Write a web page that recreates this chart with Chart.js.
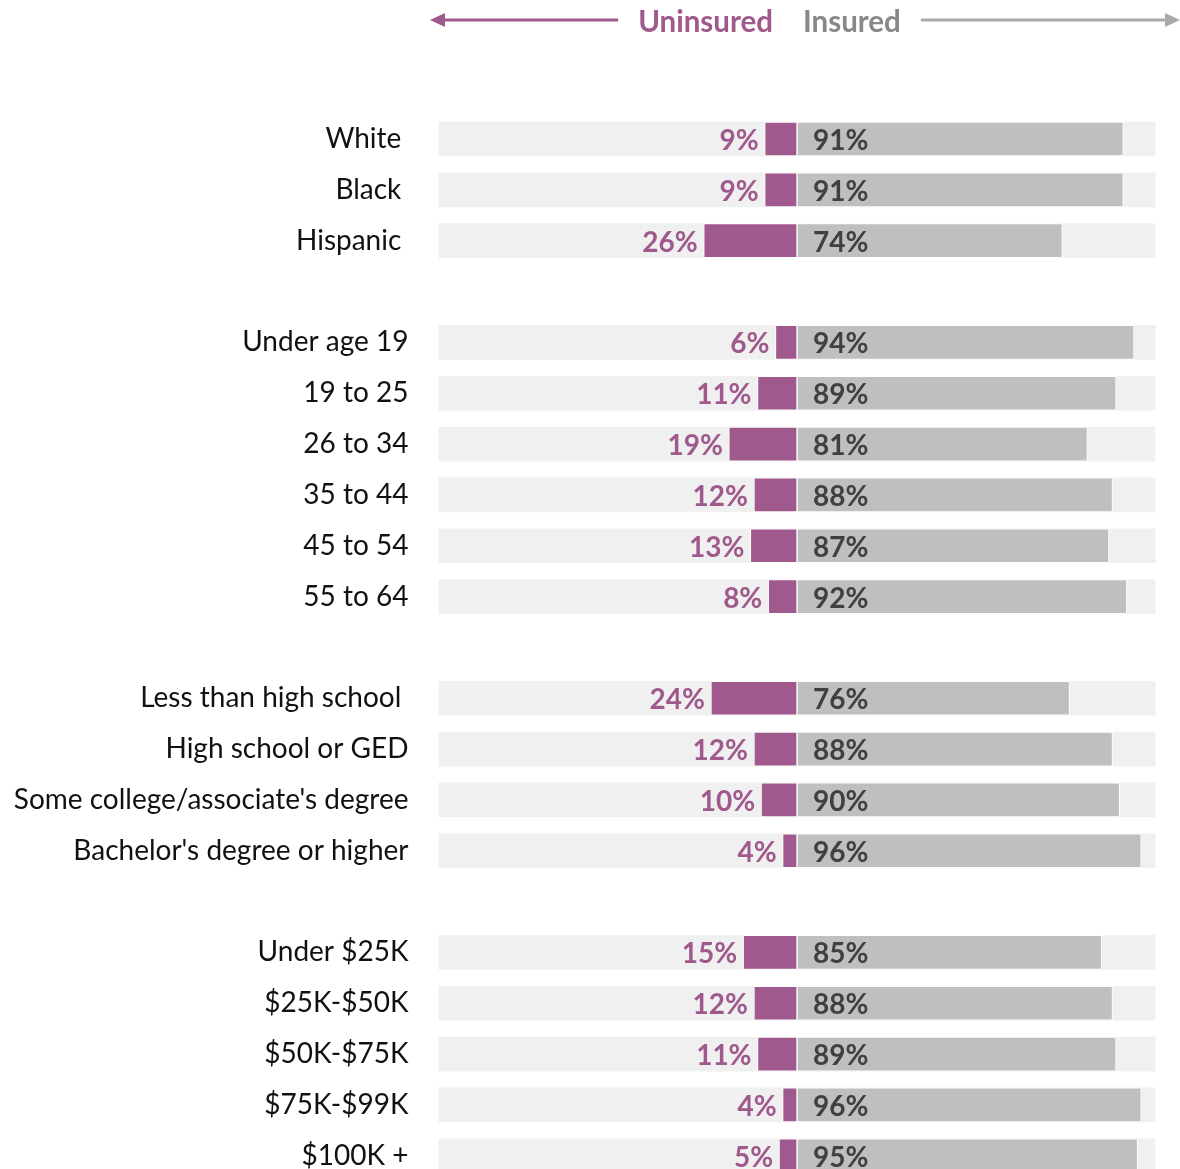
<!DOCTYPE html>
<html>
<head>
<meta charset="utf-8">
<script src="https://cdn.jsdelivr.net/npm/chart.js@4"></script>
<style>
  html, body { margin: 0; padding: 0; background: #ffffff; overflow: hidden; }
  #wrap { width: 1180px; height: 1228px; position: relative; }
</style>
</head>
<body>
<div id="wrap"><canvas id="c" width="1180" height="1228"></canvas></div>
<script>
// ---- data ----
const categories = [
  "White ", "Black ", "Hispanic ", "",
  "Under age 19", "19 to 25", "26 to 34", "35 to 44", "45 to 54", "55 to 64", "",
  "Less than high school ", "High school or GED", "Some college/associate's degree", "Bachelor's degree or higher", "",
  "Under $25K", "$25K-$50K", "$50K-$75K", "$75K-$99K", "$100K +"
];
const uninsured = [9, 9, 26, null, 6, 11, 19, 12, 13, 8, null, 24, 12, 10, 4, null, 15, 12, 11, 4, 5];
const insured   = [91, 91, 74, null, 94, 89, 81, 88, 87, 92, null, 76, 88, 90, 96, null, 85, 88, 89, 96, 95];
const headerLeft = "Uninsured";
const headerRight = "Insured";

const PURPLE = '#a0598c';
const GREY = '#bfbfbf';
const BG = '#f0f0f0';
const FONT = 'Lato, "Source Sans Pro", "Noto Sans", sans-serif';

const labelPlugin = {
  id: 'labels',
  afterDatasetsDraw(chart) {
    const ctx = chart.ctx;
    const x = chart.scales.x, y = chart.scales.y;
    ctx.save();
    ctx.font = 'bold 28px ' + FONT;
    ctx.textBaseline = 'middle';
    categories.forEach((c, i) => {
      const yc = y.getPixelForValue(i) + 2;
      if (uninsured[i] != null) {
        ctx.fillStyle = PURPLE;
        ctx.textAlign = 'right';
        ctx.fillText(uninsured[i] + '%', x.getPixelForValue(-uninsured[i]) - 6, yc);
      }
      if (insured[i] != null) {
        ctx.fillStyle = '#404040';
        ctx.textAlign = 'left';
        ctx.fillText(insured[i] + '%', x.getPixelForValue(0) + 16, yc);
      }
    });
    ctx.restore();
  },
  afterDraw(chart) {
    const ctx = chart.ctx;
    const x = chart.scales.x;
    const cx = x.getPixelForValue(0);
    const yh = 22;
    ctx.save();
    ctx.font = 'bold 29.5px ' + FONT;
    ctx.textBaseline = 'middle';
    ctx.fillStyle = PURPLE;
    ctx.textAlign = 'right';
    ctx.fillText(headerLeft, cx - 24, yh);
    const wl = ctx.measureText(headerLeft).width;
    ctx.fillStyle = '#888888';
    ctx.textAlign = 'left';
    ctx.fillText(headerRight, cx + 6, yh);
    const wr = ctx.measureText(headerRight).width;
    const ya = 20;
    ctx.strokeStyle = PURPLE; ctx.fillStyle = PURPLE; ctx.lineWidth = 3;
    ctx.beginPath();
    ctx.moveTo(cx - 24 - wl - 20, ya);
    ctx.lineTo(440, ya);
    ctx.stroke();
    ctx.beginPath();
    ctx.moveTo(430, ya); ctx.lineTo(445, ya - 7); ctx.lineTo(445, ya + 7); ctx.closePath(); ctx.fill();
    ctx.strokeStyle = '#aaaaaa'; ctx.fillStyle = '#aaaaaa';
    ctx.beginPath();
    ctx.moveTo(cx + 6 + wr + 20, ya);
    ctx.lineTo(1168, ya);
    ctx.stroke();
    ctx.beginPath();
    ctx.moveTo(1180, ya); ctx.lineTo(1165, ya - 7); ctx.lineTo(1165, ya + 7); ctx.closePath(); ctx.fill();
    ctx.restore();
  }
};

new Chart(document.getElementById('c'), {
  type: 'bar',
  data: {
    labels: categories,
    datasets: [
      {
        label: 'Uninsured',
        data: uninsured.map(v => v == null ? null : [-v, 0]),
        backgroundColor: PURPLE,
        borderColor: '#ffffff',
        borderWidth: 1,
        borderSkipped: false,
        barThickness: 34,
        order: 1
      },
      {
        label: 'Insured',
        data: insured.map(v => v == null ? null : [0, v]),
        backgroundColor: GREY,
        borderColor: '#ffffff',
        borderWidth: 1,
        borderSkipped: false,
        barThickness: 34,
        order: 2
      },
      {
        label: 'Total',
        data: insured.map(v => v == null ? null : [-100, 100]),
        backgroundColor: BG,
        borderWidth: 0,
        barThickness: 34,
        order: 3
      }
    ]
  },
  options: {
    indexAxis: 'y',
    responsive: false,
    animation: false,
    events: [],
    layout: { padding: { top: 113.6, bottom: 0, left: 0, right: 24.5 } },
    datasets: { bar: { grouped: false } },
    plugins: { legend: { display: false }, tooltip: { enabled: false } },
    scales: {
      x: { min: -100, max: 100, display: false },
      y: {
        grid: { display: false, drawTicks: false },
        border: { display: false },
        ticks: { color: '#111111', padding: 30, autoSkip: false, font: { family: FONT, size: 28 } },
        afterFit(scale) { scale.width = 438.5; }
      }
    }
  },
  plugins: [labelPlugin]
});
</script>
</body>
</html>
